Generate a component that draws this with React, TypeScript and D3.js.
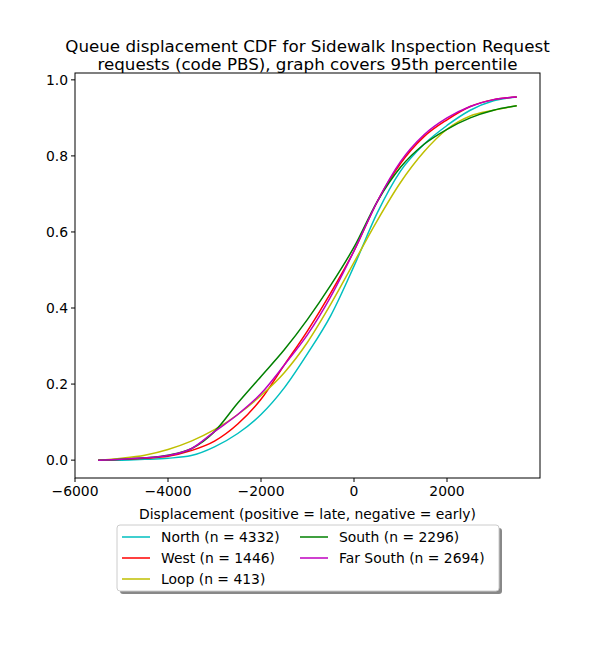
import React, { useEffect } from "react";
import * as d3 from "d3";

const xs = [-5500,-5000,-4500,-4000,-3500,-3000,-2500,-2000,-1500,-1000,-500,0,500,1000,1500,2000,2500,3000,3500];
const north = [0,0,0.002,0.005,0.012,0.035,0.07,0.12,0.19,0.28,0.38,0.51,0.65,0.76,0.83,0.88,0.92,0.945,0.955];
const west = [0,0.002,0.005,0.01,0.025,0.05,0.095,0.16,0.25,0.34,0.44,0.55,0.68,0.78,0.85,0.895,0.93,0.948,0.955];
const loop = [0,0.005,0.013,0.028,0.05,0.08,0.12,0.17,0.23,0.31,0.41,0.52,0.63,0.73,0.81,0.87,0.905,0.92,0.932];
const south = [0,0.002,0.006,0.013,0.03,0.075,0.15,0.22,0.29,0.37,0.46,0.56,0.68,0.77,0.83,0.87,0.9,0.92,0.932];
const farSouth = [0,0.002,0.006,0.012,0.03,0.075,0.12,0.175,0.25,0.33,0.43,0.55,0.68,0.785,0.855,0.9,0.93,0.948,0.955];
const seriesNames = ["North (n = 4332)","West (n = 1446)","Loop (n = 413)","South (n = 2296)","Far South (n = 2694)"];
const seriesColors = ["#00bfbf","#ff0000","#bfbf00","#008000","#bf00bf"];
const seriesData = [north, west, loop, south, farSouth];
const xTicks = [-6000,-4000,-2000,0,2000];
const yTicks = [0,0.2,0.4,0.6,0.8,1.0];

const L = 75, R = 540, T = 73, B = 478;
const font = "DejaVu Sans, sans-serif";

export default function App() {
  useEffect(() => { document.body.style.margin = "0"; }, []);
  const x = d3.scaleLinear().domain([-6000, 4000]).range([L, R]);
  const y = d3.scaleLinear().domain([-0.047, 1.018]).range([B, T]);
  const line = d3.line<number>().x((_, i) => x(xs[i])).y(d => y(d)).curve(d3.curveMonotoneX);
  const legendOrder = [0,1,2,3,4];
  const legPos = (i: number) => ({ lx: i < 3 ? 122 : 300, ly: 537 + (i % 3) * 21 });
  return (
    <svg width={600} height={650} style={{ display: "block", background: "#fff" }} fontFamily={font}>
      <text x={307.5} y={52} textAnchor="middle" fontSize={16.7}>Queue displacement CDF for Sidewalk Inspection Request</text>
      <text x={307.5} y={70} textAnchor="middle" fontSize={16.7}>requests (code PBS), graph covers 95th percentile</text>
      {seriesData.map((d, i) => (
        <path key={i} d={line(d) || ""} fill="none" stroke={seriesColors[i]} strokeWidth={1.5} />
      ))}
      <rect x={L} y={T} width={R - L} height={B - T} fill="none" stroke="#000" strokeWidth={1} />
      {xTicks.map(t => (
        <g key={t}>
          <line x1={x(t)} x2={x(t)} y1={B} y2={B + 4} stroke="#000" />
          <text x={x(t)} y={B + 18} textAnchor="middle" fontSize={13.9}>{t < 0 ? "\u2212" + Math.abs(t) : t}</text>
        </g>
      ))}
      {yTicks.map(t => (
        <g key={t}>
          <line x1={L - 4} x2={L} y1={y(t)} y2={y(t)} stroke="#000" />
          <text x={L - 7} y={y(t) + 5} textAnchor="end" fontSize={13.9}>{t.toFixed(1)}</text>
        </g>
      ))}
      <text x={307.5} y={519} textAnchor="middle" fontSize={13.9}>Displacement (positive = late, negative = early)</text>
      <rect x={120} y={528} width={382} height={66} fill="#888" rx={3} />
      <rect x={117} y={525} width={382} height={66} fill="#fff" stroke="#ccc" rx={3} />
      {legendOrder.map(i => {
        const { lx, ly } = legPos(i);
        return (
          <g key={i}>
            <line x1={lx} x2={lx + 28} y1={ly} y2={ly} stroke={seriesColors[i]} strokeWidth={1.5} />
            <text x={lx + 39} y={ly + 5} fontSize={13.9}>{seriesNames[i]}</text>
          </g>
        );
      })}
    </svg>
  );
}
